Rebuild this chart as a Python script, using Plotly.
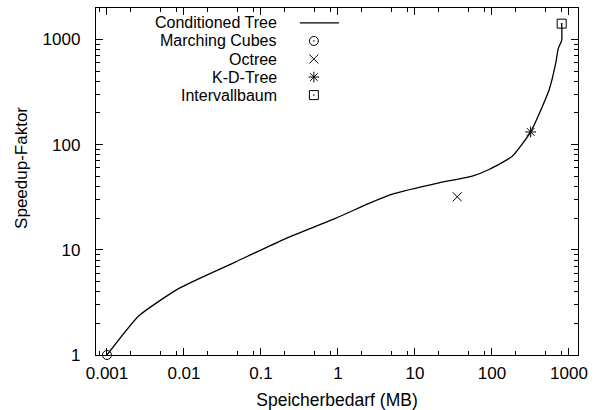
import numpy as np
import plotly.graph_objects as go

# Conditioned Tree curve (Speicherbedarf MB, Speedup-Faktor)
ct_x = [0.001, 0.0026, 0.0086, 0.047, 0.209, 0.93, 2.53, 5.07, 20.5, 55.5, 91.4, 183.5, 318, 550, 671, 726, 804, 804]
ct_y = [1.0, 2.36, 4.30, 7.69, 12.8, 19.9, 27.6, 33.8, 43.3, 50.1, 58.0, 77.6, 132, 329, 589, 818, 980, 1413]

# single-point methods
mc_x, mc_y = [0.001], [1.0]
oct_x, oct_y = [35.4], [31.9]
kd_x, kd_y = [318], [132]
ib_x, ib_y = [804], [1413]

legend_names = ["Conditioned Tree", "Marching Cubes", "Octree", "K-D-Tree", "Intervallbaum"]
legend_symbols = [None, "circle-open-dot", "x-thin-open", "asterisk-open", "square-open-dot"]

FONT = "Liberation Sans, Arial, Helvetica, sans-serif"
mk = dict(color="black", size=9, line=dict(color="black", width=1))

fig = go.Figure()
fig.add_trace(go.Scatter(x=ct_x, y=ct_y, mode="lines", line=dict(color="black", width=1.3, shape="spline", smoothing=0.5),
                         showlegend=False))
fig.add_trace(go.Scatter(x=mc_x, y=mc_y, mode="markers", marker=dict(symbol="circle-open-dot", **mk), showlegend=False, cliponaxis=False))
fig.add_trace(go.Scatter(x=oct_x, y=oct_y, mode="markers", marker=dict(symbol="x-thin-open", **mk), showlegend=False))
fig.add_trace(go.Scatter(x=kd_x, y=kd_y, mode="markers", marker=dict(symbol="asterisk-open", **mk), showlegend=False))
fig.add_trace(go.Scatter(x=ib_x, y=ib_y, mode="markers", marker=dict(symbol="square-open-dot", **mk), showlegend=False))

# gnuplot-style legend (text right-aligned, sample to the right)
row_y = [0.957, 0.905, 0.853, 0.801, 0.749]
text_right = 0.3755
sample_x = 0.452
for name, sym, yy in zip(legend_names, legend_symbols, row_y):
    fig.add_annotation(x=text_right, y=yy, xref="paper", yref="paper", text=name,
                       showarrow=False, xanchor="right", yanchor="middle", xshift=2,
                       font=dict(family=FONT, size=16, color="black"))
    if sym is None:
        fig.add_shape(type="line", xref="paper", yref="paper", x0=0.423, x1=0.504, y0=yy, y1=yy,
                      line=dict(color="black", width=1.3))
fig.add_trace(go.Scatter(x=[sample_x] * 4, y=row_y[1:], mode="markers", xaxis="x2", yaxis="y2",
                         marker=dict(symbol=legend_symbols[1:], **mk), showlegend=False))

# y axis title placed like gnuplot
fig.add_annotation(x=-0.155, y=0.54, xref="paper", yref="paper", text="Speedup-Faktor", textangle=-90,
                   showarrow=False, xanchor="center", yanchor="middle",
                   font=dict(family=FONT, size=17, color="black"))

minor_x = [m * 10.0 ** e for e in range(-4, 4) for m in (2, 5, 8)]
axis_common = dict(showline=True, linecolor="black", linewidth=1.3, mirror="ticks", ticks="inside",
                   ticklen=7, tickwidth=1, tickcolor="black", showgrid=False, zeroline=False,
                   automargin=False, tickfont=dict(family=FONT, size=17, color="black"))

fig.update_layout(
    width=600, height=410, margin=dict(l=96, r=22, t=8, b=55),
    paper_bgcolor="white", plot_bgcolor="white",
    xaxis=dict(type="log", range=[np.log10(0.00072), np.log10(1310)],
               tickvals=[0.001, 0.01, 0.1, 1, 10, 100, 1000],
               ticktext=["0.001", "0.01", "0.1", "1", "10", "100", "1000"],
               ticklabelstandoff=2,
               minor=dict(tickmode="array", tickvals=minor_x, ticks="inside", ticklen=4, tickcolor="black", tickwidth=1),
               title=dict(text="Speicherbedarf (MB)", font=dict(family=FONT, size=17.5, color="black"), standoff=12),
               **axis_common),
    yaxis=dict(type="log", range=[0, np.log10(1990)],
               tickvals=[1, 10, 100, 1000], ticktext=["1", "10", "100", "1000"],
               ticklabelstandoff=11,
               minor=dict(dtick="D1", ticks="inside", ticklen=4, tickcolor="black", tickwidth=1),
               **axis_common),
    xaxis2=dict(overlaying="x", range=[0, 1], visible=False),
    yaxis2=dict(overlaying="y", range=[0, 1], visible=False),
)

fig.write_html("out.html")
